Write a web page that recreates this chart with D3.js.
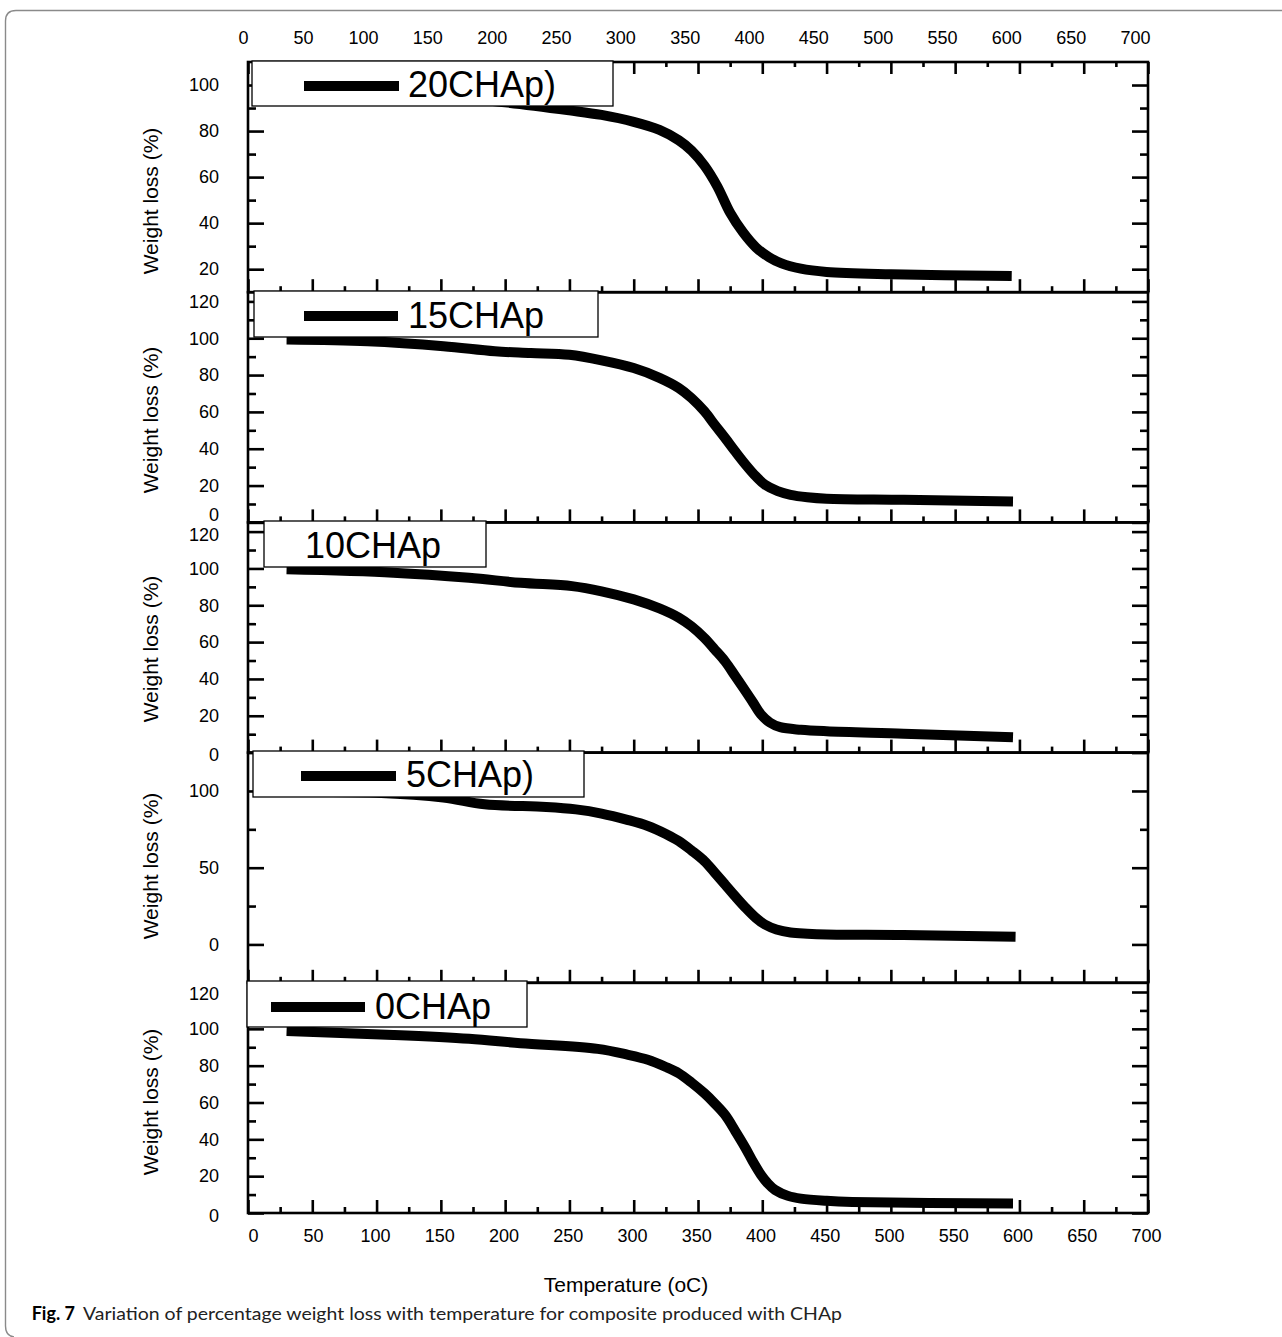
<!DOCTYPE html>
<html>
<head>
<meta charset="utf-8">
<script src="https://cdn.jsdelivr.net/npm/d3@7"></script>
<style>
  html, body { margin: 0; padding: 0; background: #fff; }
  svg { display: block; }
  text { font-family: "Liberation Sans", Arial, sans-serif; fill: #000; }
</style>
</head>
<body>
<svg id="chart" width="1282" height="1337"></svg>
<script>
// ---------------- DATA ----------------
const seriesNames = ["20CHAp)", "15CHAp", "10CHAp", "5CHAp)", "0CHAp"];

const temp20 = [30, 100, 150, 200, 250, 275, 300, 320, 335, 345, 355, 365, 375, 385, 395, 405, 415, 430, 450, 500, 594];
const loss20 = [98.5, 97, 95, 92.5, 89, 87, 84, 80.5, 76, 71.5, 65, 56, 44.5, 36, 29.5, 25.3, 22.5, 20.2, 18.8, 17.8, 17];

const temp15 = [30, 93, 152, 192, 220, 250, 275, 300, 320, 335, 345, 355, 363, 371, 379, 387, 395, 402, 412, 422, 435, 450, 510, 595];
const loss15 = [99.3, 98.4, 95.7, 92.9, 92, 91, 88, 83.8, 78.5, 73, 67.5, 60.3, 53, 45.9, 38.5, 31.4, 25, 20.5, 17, 15, 13.7, 12.9, 12.3, 11.4];

const temp10 = [30, 113, 172, 212, 252, 275, 300, 320, 335, 345, 355, 363, 371, 379, 387, 393, 399, 406, 414, 430, 450, 510, 595];
const loss10 = [99.5, 97.7, 94.9, 92.2, 90.4, 87.6, 83.2, 78.3, 73.3, 68.5, 62.2, 56, 49.6, 41.5, 33.3, 27, 20.7, 16.3, 13.8, 12.4, 11.6, 10.3, 8.3];

const temp5 = [30, 100, 152, 184, 232, 255, 275, 295, 311, 325, 335, 345, 355, 363, 371, 379, 387, 395, 402, 411, 422, 435, 450, 510, 597];
const loss5 = [99.5, 98.8, 95.7, 91.3, 89.6, 88, 85.3, 81.2, 77.2, 72, 67.4, 61.2, 54.3, 46.8, 39.1, 31.3, 23.9, 17.3, 13, 9.8, 7.8, 7, 6.5, 6.1, 5];

const temp0 = [30, 113, 172, 212, 272, 295, 311, 325, 335, 345, 355, 363, 371, 379, 387, 393, 399, 404, 410, 420, 430, 450, 470, 595];
const loss0 = [98.8, 96.7, 94.6, 92.2, 89.1, 86, 83.2, 79.3, 75.9, 70.8, 65, 59.5, 53.3, 44.5, 35.2, 27.5, 20.7, 16.3, 12.5, 9.3, 7.8, 6.6, 6, 5.1];

// axis domains and tick values
const xDomain = [0, 700];
const xMajor = d3.range(0, 701, 50);
const xMinor = d3.range(25, 700, 50);

const yDomain20 = [10, 110];
const yMajor20 = [20, 40, 60, 80, 100];
const yMinor20 = [30, 50, 70, 90];

const yDomainStd = [0, 125];
const yMajorStd = [0, 20, 40, 60, 80, 100, 120];
const yMinorStd = [10, 30, 50, 70, 90, 110];

const yDomain5 = [-25, 125];
const yMajor5 = [0, 50, 100];
const yMinor5 = [25, 75];

const yTitle = "Weight loss (%)";
const xTitle = "Temperature (oC)";
const captionBold = "Fig. 7";
const captionText = "Variation of percentage weight loss with temperature for composite produced with CHAp";

// ---------------- LAYOUT ----------------
const plotLeft = 248, plotRight = 1148, plotTop = 62, panelH = 230.2;

const panels = [
  { name: seriesNames[0], temp: temp20, loss: loss20, dom: yDomain20, major: yMajor20, minor: yMinor20,
    box: [252, 613, 61, 106], line: [304, 399, 86], tx: 408, ty: 97, titleY: 201, nudge: {} },
  { name: seriesNames[1], temp: temp15, loss: loss15, dom: yDomainStd, major: yMajorStd, minor: yMinorStd,
    box: [254, 598, 291, 337], line: [304, 398, 316], tx: 408, ty: 327.5, titleY: 420, nudge: {0: -8} },
  { name: seriesNames[2], temp: temp10, loss: loss10, dom: yDomainStd, major: yMajorStd, minor: yMinorStd,
    box: [264, 486, 521, 567], line: null, tx: 305, ty: 557.5, titleY: 649, nudge: {0: 2, 120: 3} },
  { name: seriesNames[3], temp: temp5, loss: loss5, dom: yDomain5, major: yMajor5, minor: yMinor5,
    box: [253, 584, 751, 797], line: [301, 396, 776], tx: 406, ty: 787, titleY: 866, nudge: {} },
  { name: seriesNames[4], temp: temp0, loss: loss0, dom: yDomainStd, major: yMajorStd, minor: yMinorStd,
    box: [247, 527, 981, 1027], line: [271, 365, 1007], tx: 375, ty: 1019, titleY: 1102, nudge: {0: 3, 120: 2} }
];

const svg = d3.select("#chart");

// outer figure border (journal frame)
svg.append("path")
  .attr("d", "M1282,10.5 L16,10.5 Q5.5,10.5 5.5,21 L5.5,1326 Q5.5,1336 14,1337")
  .attr("fill", "none").attr("stroke", "#8a8a8a").attr("stroke-width", 1.4);

const x = d3.scaleLinear().domain(xDomain).range([plotLeft, plotRight]);
// tick-label positions of the original (slightly offset from tick marks)
const xTopLab = d3.scaleLinear().domain([0, 50, 100, 700]).range([243, 303, 363, 1135]);
const xBotLab = d3.scaleLinear().domain([0, 50, 100, 700]).range([253, 313, 375, 1146]);

const AX_W = 2.6;
function styleAxis(g) {
  g.select(".domain").remove();
  g.selectAll("line").attr("stroke", "#000").attr("stroke-width", AX_W);
  g.selectAll("text").attr("font-size", 18).attr("fill", "#000");
}

panels.forEach((p, i) => {
  const top = plotTop + i * panelH;
  const bottom = top + panelH;
  const y = d3.scaleLinear().domain(p.dom).range([bottom, top]);
  const g = svg.append("g");

  // curve
  const line = d3.line().x((d, k) => x(p.temp[k])).y(d => y(d)).curve(d3.curveCatmullRom.alpha(0.5));
  g.append("path").datum(p.loss)
    .attr("d", line)
    .attr("fill", "none").attr("stroke", "#000")
    .attr("stroke-width", 10).attr("stroke-linecap", "butt").attr("stroke-linejoin", "round");

  // left axis: major ticks + labels
  g.append("g").attr("transform", `translate(${plotLeft},0)`)
    .call(d3.axisLeft(y).tickValues(p.major).tickSizeInner(-16).tickSizeOuter(0).tickPadding(29).tickFormat(d3.format("d")))
    .call(styleAxis)
    .call(ax => ax.selectAll(".tick text").attr("dy", d => (0.32 * 18 + (p.nudge[d] || 0)) + "px"));
  // left minor ticks
  g.append("g").attr("transform", `translate(${plotLeft},0)`)
    .call(d3.axisLeft(y).tickValues(p.minor).tickSizeInner(-8).tickSizeOuter(0).tickFormat(""))
    .call(styleAxis);
  // right ticks
  g.append("g").attr("transform", `translate(${plotRight},0)`)
    .call(d3.axisRight(y).tickValues(p.major).tickSizeInner(-16).tickSizeOuter(0).tickFormat(""))
    .call(styleAxis);
  g.append("g").attr("transform", `translate(${plotRight},0)`)
    .call(d3.axisRight(y).tickValues(p.minor).tickSizeInner(-8).tickSizeOuter(0).tickFormat(""))
    .call(styleAxis);
  // bottom ticks (inward)
  g.append("g").attr("transform", `translate(0,${bottom})`)
    .call(d3.axisBottom(x).tickValues(xMajor).tickSizeInner(-13).tickSizeOuter(0).tickFormat(""))
    .call(styleAxis);
  g.append("g").attr("transform", `translate(0,${bottom})`)
    .call(d3.axisBottom(x).tickValues(xMinor).tickSizeInner(-6).tickSizeOuter(0).tickFormat(""))
    .call(styleAxis);
  if (i === 0) {
    g.append("g").attr("transform", `translate(0,${top})`)
      .call(d3.axisTop(x).tickValues(xMajor).tickSizeInner(-12).tickSizeOuter(0).tickFormat(""))
      .call(styleAxis);
    g.append("g").attr("transform", `translate(0,${top})`)
      .call(d3.axisTop(x).tickValues(xMinor).tickSizeInner(-5).tickSizeOuter(0).tickFormat(""))
      .call(styleAxis);
  }

  // frame
  g.append("rect")
    .attr("x", plotLeft).attr("y", top)
    .attr("width", plotRight - plotLeft).attr("height", panelH)
    .attr("fill", "none").attr("stroke", "#000").attr("stroke-width", AX_W);

  // y title
  g.append("text")
    .attr("transform", `translate(158,${p.titleY}) rotate(-90)`)
    .attr("text-anchor", "middle")
    .attr("font-size", 21)
    .text(yTitle);

  // legend
  const b = p.box;
  g.append("rect")
    .attr("x", b[0]).attr("y", b[2]).attr("width", b[1] - b[0]).attr("height", b[3] - b[2])
    .attr("fill", "#fff").attr("stroke", "#000").attr("stroke-width", 1.3);
  if (p.line) {
    g.append("line")
      .attr("x1", p.line[0]).attr("x2", p.line[1]).attr("y1", p.line[2]).attr("y2", p.line[2])
      .attr("stroke", "#000").attr("stroke-width", 10);
  }
  g.append("text")
    .attr("x", p.tx).attr("y", p.ty)
    .attr("font-size", 36)
    .text(p.name);
});

// top tick labels
svg.append("g").attr("transform", `translate(0,${plotTop})`)
  .call(d3.axisTop(xTopLab).tickValues(xMajor).tickSize(0).tickPadding(18.5).tickFormat(d3.format("d")))
  .call(styleAxis);

// bottom tick labels
const lastBottom = plotTop + panels.length * panelH;
svg.append("g").attr("transform", `translate(0,${lastBottom})`)
  .call(d3.axisBottom(xBotLab).tickValues(xMajor).tickSize(0).tickPadding(16.5).tickFormat(d3.format("d")))
  .call(styleAxis);

// x title
svg.append("text")
  .attr("x", 626).attr("y", 1292)
  .attr("text-anchor", "middle")
  .attr("font-size", 21)
  .text(xTitle);

// caption
svg.append("text")
  .attr("x", 75).attr("y", 1319.5)
  .attr("text-anchor", "end")
  .attr("font-size", 18)
  .attr("font-weight", "bold")
  .style("font-family", "Lato, 'Open Sans', sans-serif")
  .text(captionBold);
svg.append("text")
  .attr("x", 83).attr("y", 1319.5)
  .attr("font-size", 18)
  .attr("textLength", 759)
  .attr("lengthAdjust", "spacingAndGlyphs")
  .style("font-family", "Lato, 'Open Sans', sans-serif")
  .style("fill", "#222")
  .text(captionText);
</script>
</body>
</html>
